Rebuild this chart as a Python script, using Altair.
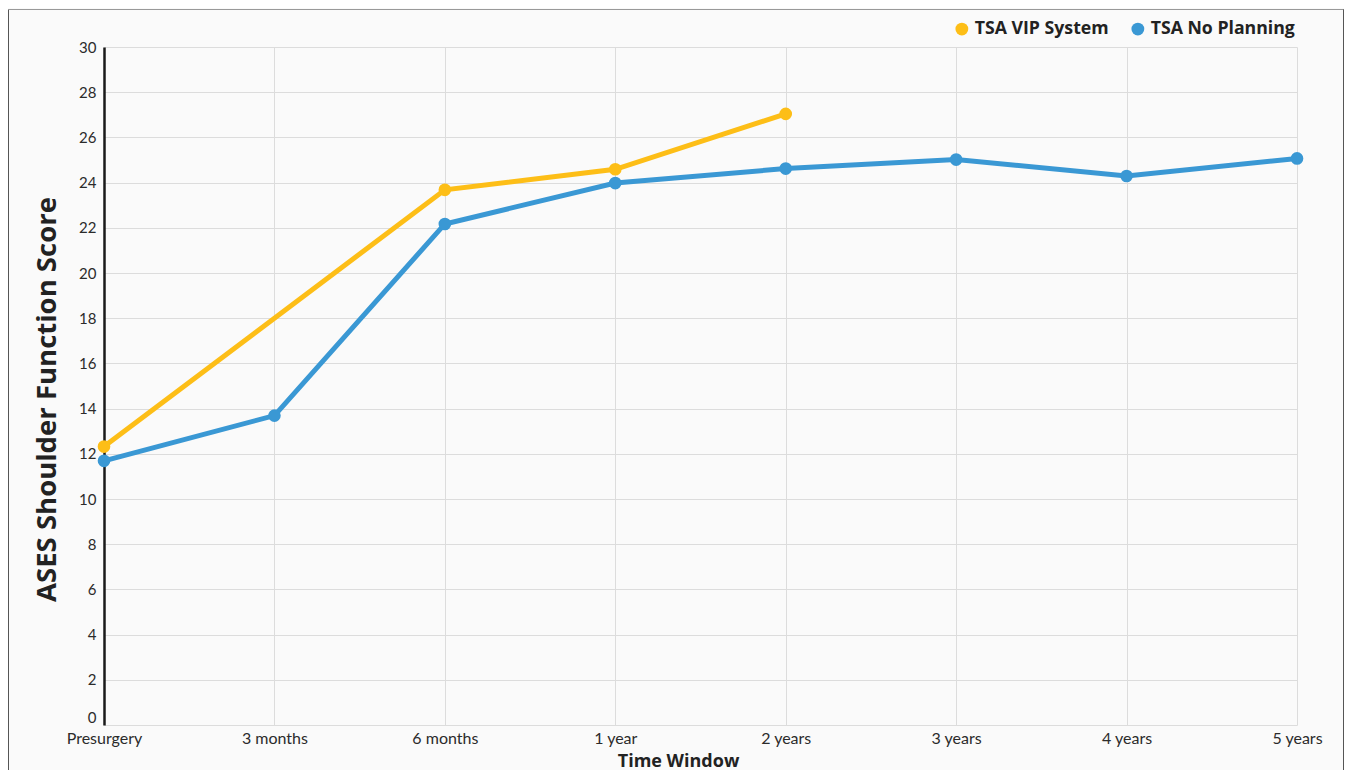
import altair as alt
import pandas as pd

categories = ["Presurgery", "3 months", "6 months", "1 year", "2 years",
              "3 years", "4 years", "5 years"]
vip_values = [12.32, None, 23.68, 24.59, 27.04, None, None, None]
noplan_values = [11.69, 13.69, 22.17, 23.98, 24.62, 25.02, 24.29, 25.07]
series_names = ["TSA VIP System", "TSA No Planning"]
series_colors = ["#FDBE17", "#3A98D4"]
y_ticks = list(range(0, 31, 2))

rows = []
for name, vals in zip(series_names, [vip_values, noplan_values]):
    for c, v in zip(categories, vals):
        if v is not None:
            rows.append({"window": c, "score": v, "series": name})
df = pd.DataFrame(rows)

FONT = "Lato"
BOLD_FONT = "Open Sans"

x_enc = alt.X("window:N", sort=categories,
              scale=alt.Scale(type="point", domain=categories, padding=0),
              axis=alt.Axis(title="Time Window", labelAngle=0, labelFontSize=16,
                            labelColor="#2b2b2b", labelPadding=5, ticks=False,
                            domain=False, grid=True, gridColor="#dcdcdc",
                            titleFont=BOLD_FONT, titleFontSize=18,
                            titleFontWeight="bold",
                            titleColor="#222222", titlePadding=6,
                            titleX=574, titleAnchor="middle"))
y_enc = alt.Y("score:Q",
              scale=alt.Scale(domain=[0, 30], nice=False, zero=True),
              axis=alt.Axis(title="ASES Shoulder Function Score", values=y_ticks,
                            labelFontSize=15, labelColor="#2b2b2b", labelPadding=8,
                            labelBaseline={"condition": {"test": "datum.value === 0",
                                                         "value": "bottom"},
                                           "value": "middle"},
                            ticks=False, domain=True, domainColor="#1a1a1a",
                            domainWidth=2.5, grid=True, gridColor="#dcdcdc",
                            titleFont=BOLD_FONT, titleFontSize=27.5,
                            titleFontWeight="bold", titleY=352,
                            titleColor="#222222", titlePadding=17))
color_scale = alt.Scale(domain=series_names, range=series_colors)
legend = alt.Legend(title=None, orient="none", direction="horizontal",
                    legendX=849, legendY=-27, symbolType="circle",
                    symbolSize=165, symbolStrokeWidth=0, labelFontSize=17.7,
                    labelFont=BOLD_FONT, labelFontWeight="bold",
                    labelColor="#222222", labelOffset=4, columnPadding=20)

lines = alt.Chart(df).mark_line(strokeWidth=5).encode(
    x=x_enc, y=y_enc,
    color=alt.Color("series:N", scale=color_scale, legend=legend),
)
points = alt.Chart(df).mark_point(filled=True, size=160, opacity=1, shape="circle").encode(
    x=x_enc, y=y_enc,
    color=alt.Color("series:N", scale=color_scale, legend=legend),
)

border_df = pd.DataFrame({"k": [0]})
border = alt.Chart(border_df)
left_rule = border.mark_rule(color="#555555", strokeWidth=1).encode(
    x=alt.value(-95.5), y=alt.value(-37.5), y2=alt.value(760))
top_rule = border.mark_rule(color="#999999", strokeWidth=1).encode(
    x=alt.value(-96), x2=alt.value(1240), y=alt.value(-37.5))
right_rule = border.mark_rule(color="#555555", strokeWidth=1).encode(
    x=alt.value(1239.5), y=alt.value(-37.5), y2=alt.value(760))

chart = alt.layer(lines, points, left_rule, top_rule, right_rule).properties(
    width=1193, height=678,
    padding={"left": 96, "top": 39, "right": 47, "bottom": 45},
    autosize=alt.AutoSizeParams(type="none"),
    background="#fafafa",
).configure(font=FONT).configure_view(stroke=None)

chart.save("out.html", embed_options={"renderer": "svg", "actions": False})
